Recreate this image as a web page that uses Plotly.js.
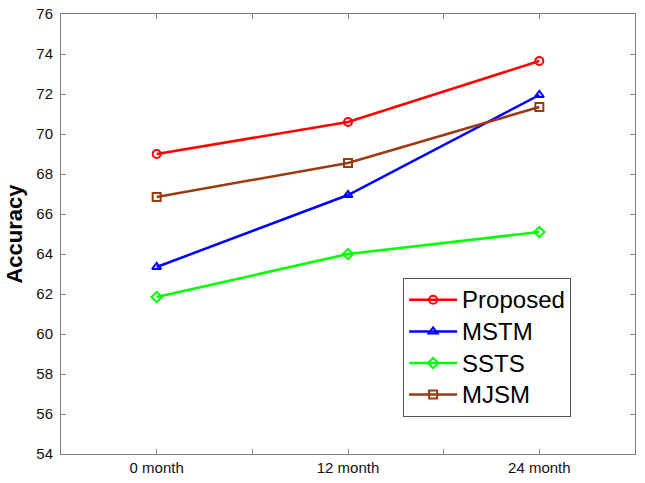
<!DOCTYPE html>
<html>
<head>
<meta charset="utf-8">
<script src="https://cdn.plot.ly/plotly-3.0.1.min.js"></script>
<style>
  html, body { margin: 0; padding: 0; background: #fff; }
  #chart { width: 645px; height: 483px; }
</style>
</head>
<body>
<div id="chart"></div>
<script>
// x positions and labels (minor ticks sit between the months)
let months = [0, 1, 2];
let tickPos = [0, 0.5, 1, 1.5, 2];
let tickLabels = ['0 month', '', '12 month', '', '24 month'];

// accuracy per method
let proposed = [69.0, 70.6, 73.65];
let mstm = [63.35, 66.95, 71.95];
let ssts = [61.85, 64.0, 65.1];
let mjsm = [66.85, 68.55, 71.35];

let names = ['Proposed', 'MSTM', 'SSTS', 'MJSM'];
let colors = ['#ff0000', '#0000ff', '#00ff00', '#9c3a10'];
let symbols = ['circle-open', 'triangle-up-open', 'diamond-open', 'square-open'];

let series = [proposed, mstm, ssts, mjsm];
let data = [];
for (let i = 0; i < series.length; i++) {
	data.push({
		x: months,
		y: series[i],
		type: 'scatter',
		mode: 'lines+markers',
		// bigger text but keep legend rows tight
		name: '<span style="font-size:24px">' + names[i] + '</span>',
		line: { color: colors[i], width: 2.5 },
		marker: { symbol: symbols[i], size: 8, color: colors[i], line: { width: 2, color: colors[i] } }
	});
}

let axisStyle = {
	showline: true,
	linecolor: '#808080',
	linewidth: 1,
	mirror: 'ticks',
	ticks: 'inside',
	ticklen: 5,
	tickcolor: '#808080',
	showgrid: false,
	zeroline: false,
	tickfont: { family: 'Liberation Sans, Arial, sans-serif', size: 15, color: '#111' }
};

var layout = {
	width: 645,
	height: 483,
	margin: { l: 61, r: 10, t: 14, b: 29 },
	paper_bgcolor: '#fff',
	plot_bgcolor: '#fff',
	showlegend: true,
	xaxis: Object.assign({}, axisStyle, {
		range: [-0.5, 2.5],
		tickmode: 'array',
		tickvals: tickPos,
		ticktext: tickLabels
	}),
	yaxis: Object.assign({}, axisStyle, {
		range: [54, 76],
		tickmode: 'linear',
		tick0: 54,
		dtick: 2,
		ticklabelstandoff: 4,
		title: {
			text: '<b>Accuracy</b>',
			font: { family: 'Liberation Sans, Arial, sans-serif', size: 22, color: '#000' },
			standoff: 7
		}
	}),
	legend: {
		x: 0.596,
		y: 0.40,
		xanchor: 'left',
		yanchor: 'top',
		bgcolor: '#fff',
		bordercolor: '#555',
		borderwidth: 1,
		font: { family: 'Liberation Sans, Arial, sans-serif', size: 22, color: '#000' },
		itemwidth: 48
	}
};

Plotly.newPlot('chart', data, layout, { displayModeBar: false });
</script>
</body>
</html>
